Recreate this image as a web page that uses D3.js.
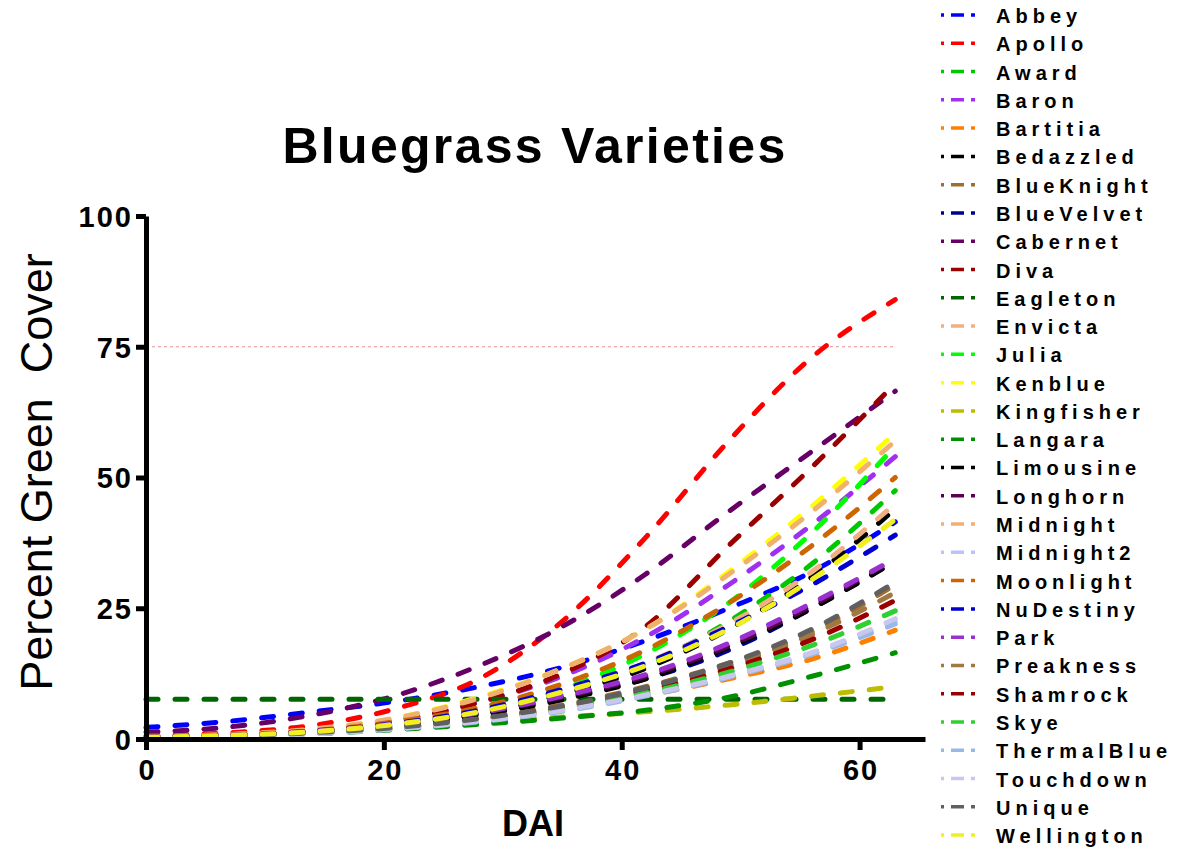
<!DOCTYPE html>
<html>
<head>
<meta charset="utf-8">
<script src="https://cdn.jsdelivr.net/npm/d3@7"></script>
<style>
  body { margin: 0; background: #fff; }
  svg { display: block; font-family: "Liberation Sans", Arial, sans-serif; }
</style>
</head>
<body>
<svg id="chart" width="1178" height="851"></svg>
<script>
'use strict';

var dai = [0, 7, 14, 21, 28, 35, 42, 49, 56, 63];

var varieties = ['Abbey', 'Apollo', 'Award', 'Baron', 'Bartitia', 'Bedazzled', 'BlueKnight', 'BlueVelvet',
  'Cabernet', 'Diva', 'Eagleton', 'Envicta', 'Julia', 'Kenblue', 'Kingfisher', 'Langara', 'Limousine',
  'Longhorn', 'Midnight', 'Midnight2', 'Moonlight', 'NuDestiny', 'Park', 'Preakness', 'Shamrock', 'Skye',
  'ThermalBlue', 'Touchdown', 'Unique', 'Wellington'];

var colors = ['#0000ff', '#ff0000', '#00c800', '#a030f0', '#ff8000', '#000000', '#a06c30', '#000090',
  '#660066', '#9a0000', '#006600', '#f0b080', '#00ff00', '#ffff00', '#bcbc00', '#009000', '#000000',
  '#5c0050', '#f0b070', '#c0c0ff', '#cc6600', '#0000d0', '#9a30d0', '#a07840', '#9a0000', '#30d030',
  '#98b8e8', '#c8c8ee', '#606060', '#f0f020'];

var abbey = [2.2, 3.4, 5.2, 7.2, 10, 13.7, 18.8, 25, 32, 41.5];
var apollo = [0.6, 1.2, 2.6, 5.8, 11.5, 22.5, 38.5, 57, 73, 84];
var award = [0.3, 0.6, 1.3, 2.8, 5, 8.5, 14, 22.5, 33.5, 47.5];
var baron = [0.4, 0.8, 1.7, 3.7, 7, 12, 19.5, 29.5, 41, 54];
var bartitia = [0.2, 0.5, 1.1, 2.2, 3.7, 5.7, 8.3, 11.5, 15.3, 20.8];
var bedazzled = [0.3, 0.6, 1.3, 2.6, 4.8, 8.5, 13.5, 21, 31, 44];
var blueKnight = [0.3, 0.6, 1.2, 2.3, 4, 6.5, 10, 14.5, 20.5, 29.5];
var blueVelvet = [0.4, 0.8, 1.5, 2.8, 4.8, 7.8, 11.5, 17, 25, 34];
var cabernet = [1.3, 2.3, 4.6, 8.3, 14, 21.5, 31.5, 43.5, 55, 66.5];
var diva = [0.3, 0.7, 1.6, 3.5, 7, 12.5, 21.5, 37, 52, 68];
var eagleton = [7.6, 7.6, 7.6, 7.6, 7.6, 7.6, 7.6, 7.6, 7.6, 7.6];
var envicta = [0.4, 0.7, 1.4, 2.8, 5, 8.8, 14.5, 22, 32, 45];
var julia = [0.2, 0.5, 1.1, 2.5, 5, 9.5, 16.3, 26, 39.5, 56];
var kenblue = [0.4, 0.8, 1.8, 4, 8, 13.5, 21, 32, 44.5, 58.5];
var kingfisher = [0.3, 0.7, 1.3, 2.2, 3.2, 4.2, 5.2, 6.5, 8.2, 10];
var langara = [0.2, 0.5, 1, 1.8, 2.8, 4, 5.5, 8, 12, 16.5];
var limousine = [0.3, 0.7, 1.4, 2.6, 4.6, 7.5, 11.5, 17.5, 25, 34];
var longhorn = [0.4, 0.8, 1.6, 3, 5, 8, 12, 17.8, 25.5, 34.5];
var midnight = [0.5, 0.9, 1.9, 4, 7.8, 13.5, 21, 31.5, 43.5, 57];
var midnight2 = [0.2, 0.5, 1, 2, 3.5, 5.6, 8.5, 12.2, 16.5, 22.5];
var moonlight = [0.4, 0.8, 1.6, 3.3, 6, 10.5, 17, 26, 37, 50];
var nuDestiny = [0.3, 0.7, 1.5, 3, 5.5, 9.5, 14.5, 21.5, 29.5, 39];
var park = [0.3, 0.7, 1.5, 2.9, 5, 8.2, 12.3, 18.3, 26, 34.5];
var preakness = [0.3, 0.6, 1.2, 2.2, 3.8, 6.2, 9.6, 14, 20, 28];
var shamrock = [0.2, 0.5, 1.1, 2.1, 3.7, 6, 9.2, 13.4, 19, 26.5];
var skye = [0.2, 0.5, 1, 2, 3.5, 5.7, 8.8, 12.8, 17.9, 24.5];
var thermalBlue = [0.2, 0.5, 1, 1.9, 3.3, 5.3, 8.2, 11.8, 16.2, 22];
var touchdown = [0.2, 0.5, 1, 2, 3.4, 5.5, 8.4, 12, 16.5, 23];
var unique = [0.3, 0.6, 1.2, 2.2, 3.9, 6.3, 9.8, 14.5, 21, 30];
var wellington = [0.3, 0.7, 1.4, 2.8, 5.2, 9, 14, 21, 30.5, 42];

var seriesValues = [abbey, apollo, award, baron, bartitia, bedazzled, blueKnight, blueVelvet, cabernet, diva,
  eagleton, envicta, julia, kenblue, kingfisher, langara, limousine, longhorn, midnight, midnight2,
  moonlight, nuDestiny, park, preakness, shamrock, skye, thermalBlue, touchdown, unique, wellington];

var yTicks = [0, 25, 50, 75, 100];
var xTicks = [0, 20, 40, 60];
var targetCover = 75;

var svg = d3.select('#chart');
var fontStack = '"Liberation Sans", Arial, sans-serif';

var x = d3.scaleLinear().domain([0, 65.5]).range([146, 925]);
var y = d3.scaleLinear().domain([0, 100]).range([739, 216]);

// build one record per variety from the arrays above
var series = varieties.map(function(name, i) {
  return {
    name: name,
    color: colors[i],
    points: seriesValues[i].map(function(v, j) { return { day: dai[j], cover: v }; })
  };
});

// 75% reference line
svg.append('line')
  .attr('x1', x(0)).attr('x2', x(63))
  .attr('y1', y(targetCover)).attr('y2', y(targetCover))
  .attr('stroke', '#e89090')
  .attr('stroke-width', 1.2)
  .attr('stroke-dasharray', '3,3');

var line = d3.line()
  .x(function(d) { return x(d.day); })
  .y(function(d) { return y(d.cover); })
  .curve(d3.curveMonotoneX);

svg.append('g').selectAll('path')
  .data(series)
  .enter().append('path')
  .attr('d', function(d) { return line(d.points); })
  .attr('fill', 'none')
  .attr('stroke', function(d) { return d.color; })
  .attr('stroke-width', 5)
  .attr('stroke-linecap', 'round')
  .attr('stroke-dasharray', '12,17');

// axes
var yAxis = svg.append('g')
  .attr('transform', 'translate(' + x(0) + ',0)')
  .call(d3.axisLeft(y).tickValues(yTicks).tickSize(10).tickSizeOuter(0).tickPadding(3));

var xAxis = svg.append('g')
  .attr('transform', 'translate(0,' + y(0) + ')')
  .call(d3.axisBottom(x).tickValues(xTicks).tickSize(11).tickSizeOuter(0).tickPadding(9));

[yAxis, xAxis].forEach(function(ax) {
  ax.select('.domain').attr('stroke', '#000').attr('stroke-width', 5);
  ax.selectAll('.tick line').attr('stroke', '#000').attr('stroke-width', 5);
  ax.selectAll('.tick text')
    .attr('fill', '#000')
    .style('font-family', fontStack)
    .style('font-weight', 'bold')
    .style('font-size', '29px')
    .style('letter-spacing', '2px');
});
yAxis.selectAll('.tick text').attr('dy', '0.36em');
xAxis.selectAll('.tick text').attr('dx', '1px');

// titles
svg.append('text')
  .attr('x', 535).attr('y', 163)
  .attr('text-anchor', 'middle')
  .style('font-size', '50px')
  .style('font-weight', 'bold')
  .style('letter-spacing', '2.3px')
  .text('Bluegrass Varieties');

svg.append('text')
  .attr('transform', 'translate(52,472) rotate(-90)')
  .attr('text-anchor', 'middle')
  .style('font-size', '45px')
  .style('white-space', 'pre')
  .text('Percent Green  Cover');

svg.append('text')
  .attr('x', 533).attr('y', 836)
  .attr('text-anchor', 'middle')
  .style('font-size', '36px')
  .style('font-weight', 'bold')
  .text('DAI');

// legend
var legend = svg.append('g').selectAll('g')
  .data(series)
  .enter().append('g')
  .attr('transform', function(d, i) { return 'translate(0,' + (15 + i * 28.28) + ')'; });

legend.append('line')
  .attr('x1', 941).attr('x2', 975)
  .attr('stroke', function(d) { return d.color; })
  .attr('stroke-width', 3.5)
  .attr('stroke-dasharray', '13,7')
  .attr('stroke-dashoffset', 10);

legend.append('text')
  .attr('x', 996).attr('y', 8)
  .style('font-size', '20px')
  .style('font-weight', 'bold')
  .style('letter-spacing', '5px')
  .text(function(d) { return d.name; });
</script>
</body>
</html>
